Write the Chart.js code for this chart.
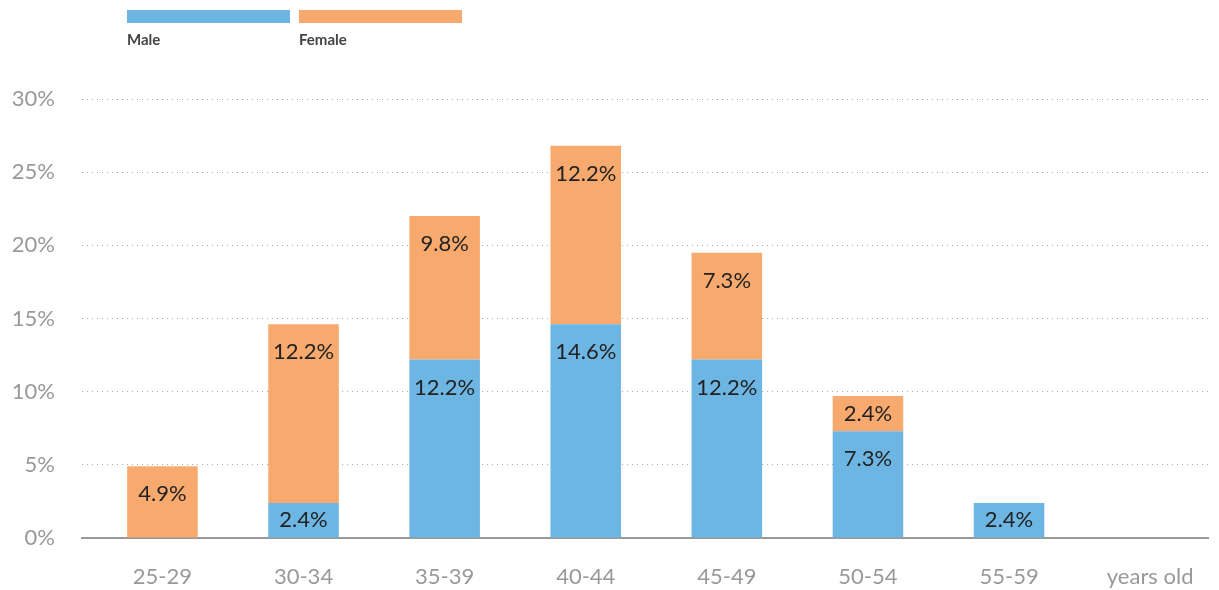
<!DOCTYPE html>
<html>
<head>
<meta charset="utf-8">
<script src="https://cdn.jsdelivr.net/npm/chart.js@4"></script>
<style>
  html, body { margin: 0; padding: 0; background: #fff; overflow: hidden; }
  canvas { display: block; }
</style>
</head>
<body>
<canvas id="ages" width="1219" height="590"></canvas>
<script>
// age groups; the last slot only carries the unit label
const ageGroups = ['25-29', '30-34', '35-39', '40-44', '45-49', '50-54', '55-59', 'years old'];
const malePct   = [null, 2.4, 12.2, 14.6, 12.2, 7.3, 2.4];
const femalePct = [4.9, 12.2, 9.8, 12.2, 7.3, 2.4, null];
const yTicks    = [0, 5, 10, 15, 20, 25, 30];

const BLUE = '#6db6e3';
const ORANGE = '#f8aa6e';
const FONT = 'Lato, "Open Sans", sans-serif';

const toPoints = arr => arr.map((v, i) => ({ x: i, y: v }));

// legend: wide swatches with bold names below
const topLegend = {
  id: 'topLegend',
  afterDraw(chart) {
    const ctx = chart.ctx;
    ctx.save();
    chart.data.datasets.forEach((ds, i) => {
      const x = 127 + i * 172;
      ctx.fillStyle = ds.backgroundColor;
      ctx.fillRect(x, 10, 163, 13);
      ctx.fillStyle = '#444';
      ctx.font = 'bold 15px ' + FONT;
      ctx.textBaseline = 'middle';
      ctx.textAlign = 'left';
      ctx.fillText(ds.label, x, 40);
    });
    ctx.restore();
  }
};

// value labels near the top of each segment
const segLabels = {
  id: 'segLabels',
  afterDatasetsDraw(chart) {
    const ctx = chart.ctx;
    ctx.save();
    ctx.font = '22px ' + FONT;
    ctx.fillStyle = '#222';
    ctx.textAlign = 'center';
    ctx.textBaseline = 'middle';
    chart.data.datasets.forEach((ds, di) => {
      chart.getDatasetMeta(di).data.forEach((bar, i) => {
        const v = ds.data[i].y;
        if (v == null) return;
        const top = Math.min(bar.y, bar.base);
        const h = Math.abs(bar.base - bar.y);
        ctx.fillText(v.toFixed(1) + '%', bar.x, top + Math.min(28, h / 2));
      });
    });
    ctx.restore();
  }
};

new Chart(document.getElementById('ages'), {
  type: 'bar',
  data: {
    datasets: [
      { label: 'Male', data: toPoints(malePct), backgroundColor: BLUE, borderWidth: 0 },
      { label: 'Female', data: toPoints(femalePct), backgroundColor: ORANGE, borderWidth: 0 }
    ]
  },
  options: {
    responsive: false,
    animation: false,
    devicePixelRatio: 1,
    layout: { padding: { top: 99, left: 10, right: 11, bottom: 0 } },
    plugins: { legend: { display: false }, tooltip: { enabled: false } },
    datasets: { bar: { barPercentage: 0.5, categoryPercentage: 1 } },
    scales: {
      x: {
        type: 'linear',
        stacked: true,
        offset: false,
        min: -0.57, max: 7.41,
        afterBuildTicks(s) { s.ticks = ageGroups.map((g, i) => ({ value: i })); },
        grid: { display: false },
        border: { display: true, color: '#999', width: 2 },
        ticks: { color: '#999', font: { family: FONT, size: 22 }, padding: 18, maxRotation: 0,
                 autoSkip: false, callback: v => ageGroups[v] },
        afterFit(s) { s.height = 52; }
      },
      y: {
        stacked: true,
        min: 0, max: 30,
        afterBuildTicks(s) { s.ticks = yTicks.map(v => ({ value: v })); },
        grid: { color: '#aaa', lineWidth: 1, drawTicks: false },
        border: { display: false, dash: [1, 4] },
        ticks: { color: '#999', font: { family: FONT, size: 22 }, padding: 27, callback: v => v + '%' },
        afterFit(s) { s.width = 72; }
      }
    }
  },
  plugins: [topLegend, segLabels]
});
</script>
</body>
</html>
